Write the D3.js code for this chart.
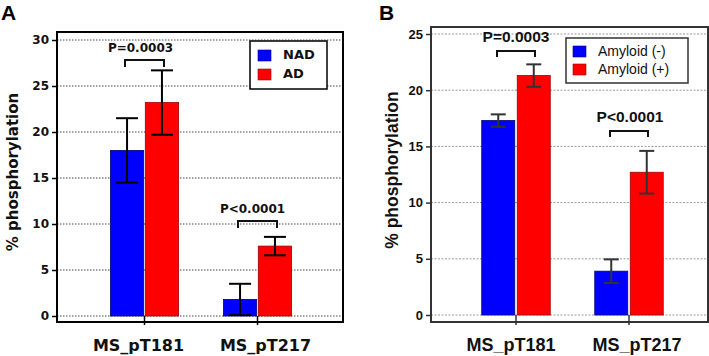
<!DOCTYPE html>
<html><head><meta charset="utf-8">
<script src="https://cdn.jsdelivr.net/npm/d3@7/dist/d3.min.js"></script>
<style>body{margin:0;background:#fff}svg{display:block}</style>
</head><body>
<svg id="chart" width="709" height="356"></svg>
<script>
// ---------- data ----------
const categories = ["MS_pT181", "MS_pT217"];

const seriesA = ["NAD", "AD"];
const meanA_NAD = [18.0, 1.8];
const sdA_NAD   = [3.5, 1.7];
const meanA_AD  = [23.2, 7.6];
const sdA_AD    = [3.5, 1.0];
const ticksA    = [0, 5, 10, 15, 20, 25, 30];
const pvalsA    = ["P=0.0003", "P<0.0001"];

const seriesB = ["Amyloid (-)", "Amyloid (+)"];
const meanB_neg = [17.3, 3.9];
const sdB_neg   = [0.55, 1.05];
const meanB_pos = [21.3, 12.7];
const sdB_pos   = [1.0, 1.9];
const ticksB    = [0, 5, 10, 15, 20, 25];
const pvalsB    = ["P=0.0003", "P<0.0001"];

const colors = ["#0000ff", "#ff0000"];
const strokes = ["#00007a", "#a00000"];

const svg = d3.select("#chart");

function panel(cfg) {
  const g = svg.append("g");
  const y = d3.scaleLinear().domain(cfg.ydom).range([cfg.y0, cfg.y1]);
  const x = d3.scalePoint().domain(categories).range(cfg.xcat);
  const bw = cfg.bw, gap = cfg.gap;

  // gridlines
  g.selectAll(".grid").data(cfg.ticks).join("line")
    .attr("x1", cfg.fx0).attr("x2", cfg.fx1)
    .attr("y1", d => y(d)).attr("y2", d => y(d))
    .attr("stroke", cfg.gridColor).attr("stroke-width", 1)
    .attr("stroke-dasharray", cfg.gridDash);

  // y axis ticks and labels
  const yAxis = d3.axisLeft(y).tickValues(cfg.ticks).tickSize(cfg.tickLen).tickPadding(cfg.tickPad).tickFormat(d3.format("d"));
  const ya = g.append("g").attr("transform", `translate(${cfg.fx0},0)`).call(yAxis);
  ya.select(".domain").remove();
  ya.selectAll("line").attr("stroke", cfg.frameColor).attr("stroke-width", 1.5);
  ya.selectAll("text").attr("font-family", cfg.tickFont).attr("font-weight", "bold")
    .attr("font-size", cfg.tickSize).attr("fill", "#111");

  // bars
  const groups = [
    {mean: cfg.m0, sd: cfg.s0, off: -gap / 2 - bw, c: 0},
    {mean: cfg.m1, sd: cfg.s1, off: gap / 2, c: 1}
  ];
  groups.forEach(s => {
    categories.forEach((cat, i) => {
      const bx = x(cat) + s.off;
      g.append("rect").attr("x", bx).attr("y", y(s.mean[i]))
        .attr("width", bw).attr("height", y(0) - y(s.mean[i]))
        .attr("fill", colors[s.c]).attr("stroke", strokes[s.c]).attr("stroke-width", 0.8);
      const cx = bx + bw / 2;
      const hi = y(s.mean[i] + s.sd[i]), lo = y(Math.max(0, s.mean[i] - s.sd[i]));
      g.append("line").attr("x1", cx).attr("x2", cx).attr("y1", hi).attr("y2", lo)
        .attr("stroke", cfg.errColor).attr("stroke-width", cfg.errW);
      [hi, lo].forEach(v => g.append("line").attr("x1", cx - cfg.cap / 2).attr("x2", cx + cfg.cap / 2)
        .attr("y1", v).attr("y2", v).attr("stroke", cfg.errColor).attr("stroke-width", cfg.errW));
    });
  });

  // frame
  g.append("rect").attr("x", cfg.fx0).attr("y", cfg.fy0)
    .attr("width", cfg.fx1 - cfg.fx0).attr("height", cfg.fy1 - cfg.fy0)
    .attr("fill", "none").attr("stroke", cfg.frameColor).attr("stroke-width", cfg.frameW);

  // category ticks
  categories.forEach(cat => {
    g.append("line").attr("x1", x(cat)).attr("x2", x(cat))
      .attr("y1", y(0)).attr("y2", cfg.fy1 + 3)
      .attr("stroke", cfg.frameColor).attr("stroke-width", 1.5);
  });

  // x labels
  categories.forEach((cat, i) => {
    g.append("text").attr("x", x(cat) + cfg.xlabOff[i]).attr("y", 351)
      .attr("text-anchor", "middle").attr("font-family", cfg.xlabFont)
      .attr("font-weight", "bold").attr("font-size", cfg.xlabSize).attr("fill", "#111").text(cat);
  });

  // significance brackets
  categories.forEach((cat, i) => {
    const top = Math.max(cfg.m0[i] + cfg.s0[i], cfg.m1[i] + cfg.s1[i]);
    const by = cfg.brY[i];
    const x1 = x(cat) - cfg.brHalf, x2 = x(cat) + cfg.brHalf;
    g.append("path").attr("d", `M${x1},${by + cfg.brLeg}V${by}H${x2}V${by + cfg.brLeg}`)
      .attr("fill", "none").attr("stroke", "#111").attr("stroke-width", 2);
    g.append("text").attr("x", x(cat) + cfg.pOff[i]).attr("y", by - cfg.pGap)
      .attr("text-anchor", "middle").attr("font-family", cfg.pFont).attr("font-weight", "bold")
      .attr("font-size", cfg.pSize).attr("fill", "#111").text(cfg.pvals[i]);
  });

  // legend
  const L = cfg.leg;
  g.append("rect").attr("x", L.x).attr("y", L.y).attr("width", L.w).attr("height", L.h)
    .attr("fill", "#fff").attr("stroke", cfg.frameColor).attr("stroke-width", 1.5);
  cfg.series.forEach((s, i) => {
    g.append("rect").attr("x", L.x + L.sx).attr("y", L.y + L.sy + i * L.dy)
      .attr("width", 13).attr("height", 11).attr("fill", colors[i])
      .attr("stroke", strokes[i]).attr("stroke-width", 0.6);
    g.append("text").attr("x", L.x + L.tx).attr("y", L.y + L.ty + i * L.dy)
      .attr("font-family", L.font).attr("font-weight", L.weight).attr("font-size", L.size)
      .attr("fill", "#111").text(s);
  });

  // y label
  g.append("text").attr("transform", `translate(${cfg.ylabX},${cfg.ylabY}) rotate(-90)`)
    .attr("text-anchor", "middle").attr("font-family", cfg.ylabFont).attr("font-weight", "bold")
    .attr("font-size", cfg.ylabSize).attr("fill", "#111").text("% phosphorylation");

  // panel letter
  g.append("text").attr("x", cfg.letterX).attr("y", 20).attr("font-family", "Liberation Sans, Arial, sans-serif")
    .attr("font-weight", "bold").attr("font-size", 21).attr("fill", "#000").text(cfg.letter);
}

panel({
  letter: "A", letterX: 1,
  ydom: [0, 30], y0: 316, y1: 40, xcat: [144.5, 257.5], bw: 33.3, gap: 1.6,
  fx0: 57, fx1: 343, fy0: 32, fy1: 322, frameColor: "#000", frameW: 2,
  ticks: ticksA, gridColor: "#444", gridDash: "1.5,1.5",
  tickLen: 5, tickPad: 3, tickFont: "DejaVu Sans, Verdana, sans-serif", tickSize: 12,
  m0: meanA_NAD, s0: sdA_NAD, m1: meanA_AD, s1: sdA_AD,
  errColor: "#000", errW: 2, cap: 22,
  xlabOff: [-6, 8], xlabFont: "DejaVu Sans, Verdana, sans-serif", xlabSize: 16,
  brY: [60, 221], brHalf: 19.5, brLeg: 7, pGap: 8, pOff: [-4, -5],
  pFont: "DejaVu Sans, Verdana, sans-serif", pSize: 12, pvals: pvalsA,
  series: seriesA,
  leg: {x: 250, y: 41, w: 77, h: 48, sx: 8, sy: 9, dy: 19, tx: 33, ty: 18,
        font: "DejaVu Sans, Verdana, sans-serif", weight: "bold", size: 13},
  ylabX: 18, ylabY: 172, ylabFont: "DejaVu Sans, Verdana, sans-serif", ylabSize: 15
});

panel({
  letter: "B", letterX: 379,
  ydom: [0, 25], y0: 315, y1: 34, xcat: [516, 629], bw: 33, gap: 2.5,
  fx0: 431, fx1: 708, fy0: 27, fy1: 322, frameColor: "#333", frameW: 2,
  ticks: ticksB, gridColor: "#999", gridDash: "2,1.5",
  tickLen: 5, tickPad: 3, tickFont: "Liberation Sans, Arial, sans-serif", tickSize: 13,
  m0: meanB_neg, s0: sdB_neg, m1: meanB_pos, s1: sdB_pos,
  errColor: "#333", errW: 2, cap: 15,
  xlabOff: [-5, 8], xlabFont: "Liberation Sans, Arial, sans-serif", xlabSize: 18,
  brY: [51, 131], brHalf: 19, brLeg: 6, pGap: 9, pOff: [0, 1],
  pFont: "Liberation Sans, Arial, sans-serif", pSize: 15.5, pvals: pvalsB,
  series: seriesB,
  leg: {x: 566, y: 38, w: 122, h: 45, sx: 7, sy: 8, dy: 18, tx: 32, ty: 18,
        font: "Liberation Sans, Arial, sans-serif", weight: "normal", size: 14},
  ylabX: 398, ylabY: 170, ylabFont: "Liberation Sans, Arial, sans-serif", ylabSize: 17.5
});
</script>
</body></html>
